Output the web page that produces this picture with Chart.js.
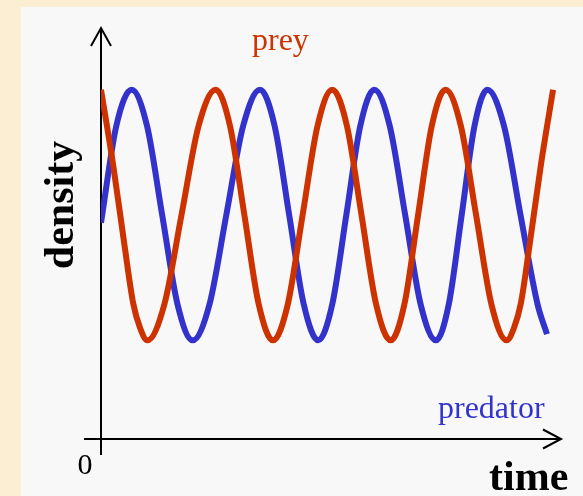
<!DOCTYPE html>
<html>
<head>
<meta charset="utf-8">
<script src="https://cdn.jsdelivr.net/npm/chart.js@4/dist/chart.umd.min.js"></script>
<style>
  html, body { margin: 0; padding: 0; background: #fbeed3; }
  #wrap { width: 583px; height: 496px; }
</style>
</head>
<body>
<div id="wrap"><canvas id="c" width="583" height="496"></canvas></div>
<script>
// ---- data ----
const preyTime = [0, 2.6, 5.0, 7.0, 8.5, 10.07, 13.78, 17.5, 21.22, 24.93, 28.04, 31.17, 34.28, 37.39, 40.61, 43.83, 47.07, 50.28, 53.46, 56.63, 59.80, 62.98, 65.96, 68.93, 71.91, 74.89, 78.22, 81.54, 84.87, 88.20, 89.77, 91.27, 93.27, 95.67, 98.27];
const preyDensity = [85, 67, 48, 33, 27, 24, 32.8, 54.5, 76.2, 85, 76.2, 54.5, 32.8, 24, 32.8, 54.5, 76.2, 85, 76.2, 54.5, 32.8, 24, 32.8, 54.5, 76.2, 85, 76.2, 54.5, 32.8, 24, 27, 33, 48, 67, 85];
const predatorTime = [0, 3.33, 6.67, 10.0, 13.30, 16.63, 19.93, 23.59, 27.24, 30.91, 34.57, 37.74, 40.91, 44.07, 47.24, 50.28, 53.33, 56.37, 59.41, 62.76, 66.13, 69.48, 72.83, 75.61, 78.41, 81.20, 83.98, 87.6, 91.2, 94.9, 96.96];
const predatorDensity = [52.6, 76.2, 85, 76.2, 54.5, 32.8, 24, 32.8, 54.5, 76.2, 85, 76.2, 54.5, 32.8, 24, 32.8, 54.5, 76.2, 85, 76.2, 54.5, 32.8, 24, 32.8, 54.5, 76.2, 85, 76.2, 54.5, 32.8, 25.5];
const seriesNames = ['prey', 'predator'];
const axisTitles = ['time', 'density'];
const originLabel = '0';

const preyColor = '#cc3300';
const predColor = '#3333cc';

function pts(xs, ys) { return xs.map((x, i) => ({ x: x, y: ys[i] })); }

const backgroundPlugin = {
  id: 'bg',
  beforeDraw(chart) {
    const ctx = chart.ctx;
    ctx.save();
    ctx.fillStyle = '#fbeed3';
    ctx.fillRect(0, 0, chart.width, chart.height);
    ctx.fillStyle = '#f8f8f8';
    ctx.fillRect(21, 7, chart.width - 21, chart.height - 7);
    ctx.restore();
  },
  beforeDatasetsDraw(chart) {
    const ctx = chart.ctx;
    const xs = chart.scales.x, ys = chart.scales.y;
    const x0 = xs.getPixelForValue(0), y0 = ys.getPixelForValue(0);
    const yTop = ys.getPixelForValue(100);
    const xEnd = xs.getPixelForValue(100);
    ctx.save();
    ctx.strokeStyle = '#000';
    ctx.lineWidth = 2;
    ctx.beginPath();
    ctx.moveTo(x0, y0 + 16);
    ctx.lineTo(x0, yTop);
    ctx.moveTo(x0 - 17, y0);
    ctx.lineTo(xEnd, y0);
    ctx.stroke();
    ctx.beginPath();
    ctx.moveTo(x0 - 10, yTop + 18);
    ctx.lineTo(x0, yTop);
    ctx.lineTo(x0 + 10, yTop + 18);
    ctx.moveTo(xEnd - 18, y0 - 9.5);
    ctx.lineTo(xEnd, y0);
    ctx.lineTo(xEnd - 18, y0 + 9.5);
    ctx.stroke();
    ctx.restore();
  },
  afterDraw(chart) {
    const ctx = chart.ctx;
    const xs = chart.scales.x, ys = chart.scales.y;
    const x0 = xs.getPixelForValue(0), y0 = ys.getPixelForValue(0);
    ctx.save();
    ctx.textBaseline = 'alphabetic';
    ctx.font = '32px "Liberation Serif", "Times New Roman", serif';
    ctx.fillStyle = preyColor;
    ctx.textAlign = 'left';
    ctx.fillText(seriesNames[0], 252, 50);
    ctx.fillStyle = predColor;
    ctx.fillText(seriesNames[1], 438, 418);
    ctx.font = '30px "Liberation Serif", "Times New Roman", serif';
    ctx.fillStyle = '#000';
    ctx.textAlign = 'center';
    ctx.fillText(originLabel, x0 - 16, y0 + 35);
    ctx.font = 'bold 42px "Liberation Serif", "Times New Roman", serif';
    ctx.textAlign = 'left';
    ctx.fillText(axisTitles[0], 489, 490);
    ctx.translate(73, 205);
    ctx.rotate(-Math.PI / 2);
    ctx.textAlign = 'center';
    ctx.fillText(axisTitles[1], 0, 0);
    ctx.restore();
  }
};

new Chart(document.getElementById('c'), {
  type: 'line',
  data: {
    datasets: [
      { label: seriesNames[0], data: pts(preyTime, preyDensity), borderColor: preyColor, borderWidth: 6, pointRadius: 0, cubicInterpolationMode: 'monotone', fill: false, borderCapStyle: 'butt' },
      { label: seriesNames[1], data: pts(predatorTime, predatorDensity), borderColor: predColor, borderWidth: 6, pointRadius: 0, cubicInterpolationMode: 'monotone', fill: false, borderCapStyle: 'butt' }
    ]
  },
  options: {
    responsive: false,
    animation: false,
    devicePixelRatio: 1,
    layout: { padding: { left: 101, right: 22, top: 28, bottom: 57 } },
    plugins: { legend: { display: false }, tooltip: { enabled: false } },
    scales: {
      x: { type: 'linear', min: 0, max: 100, display: false },
      y: { type: 'linear', min: 0, max: 100, display: false }
    }
  },
  plugins: [backgroundPlugin]
});
</script>
</body>
</html>
